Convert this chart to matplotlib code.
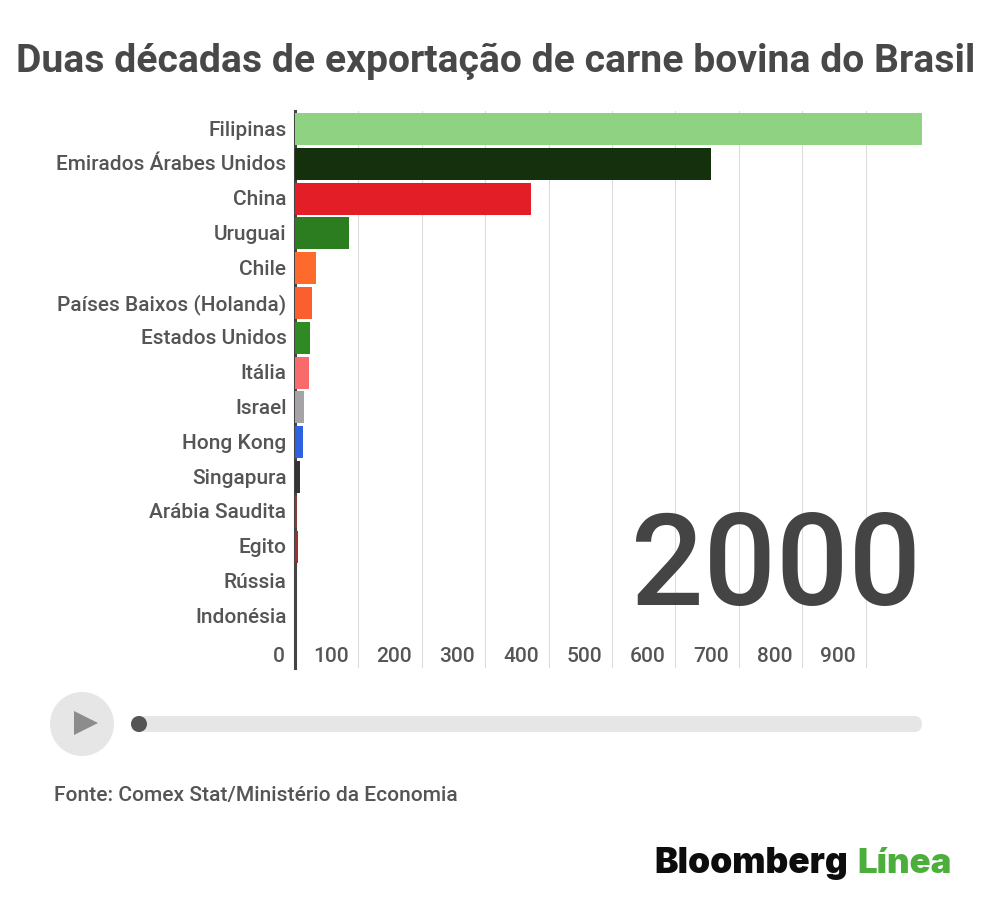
"""Brazilian beef exports, year 2000 frame of the bar race."""
import matplotlib

matplotlib.use("Agg")
import matplotlib.pyplot as plt
from matplotlib.patches import Circle, FancyBboxPatch, Polygon
from matplotlib.transforms import ScaledTranslation

plt.rcParams["font.family"] = ["Roboto", "DejaVu Sans"]

COUNTRIES = [
    "Filipinas", "Emirados Árabes Unidos", "China", "Uruguai", "Chile",
    "Países Baixos (Holanda)", "Estados Unidos", "Itália", "Israel",
    "Hong Kong", "Singapura", "Arábia Saudita", "Egito", "Rússia", "Indonésia",
]
VALUES = [989, 656, 372, 85, 33, 27, 24, 22, 14, 13, 8, 3.5, 4.5, 0.5, 0.3]
COLORS = [
    "#8fd282", "#14300c", "#e31e26", "#2b7d1f", "#fe6a2c",
    "#fb5f30", "#2f8a24", "#f96a6a", "#a5a3a5", "#2f62e0",
    "#333333", "#8b3a3a", "#a03030", "#444444", "#444444",
]
XTICKS = [0, 100, 200, 300, 400, 500, 600, 700, 800, 900]

TEXT = "#555555"
W, H = 1000, 909


def main():
    fig = plt.figure(figsize=(W / 100, H / 100), dpi=100)

    # page layer in pixel coords, y going down, kept above the chart so the year covers the grid
    page = fig.add_axes([0, 0, 1, 1], zorder=3)
    page.set_xlim(0, W)
    page.set_ylim(H, 0)
    page.axis("off")

    ax = fig.add_axes([295 / W, 1 - 668 / H, 627 / W, 557 / H], zorder=1)
    ax.patch.set_alpha(0)
    ax.barh(range(len(VALUES)), VALUES, height=0.92, color=COLORS, zorder=2)
    ax.set_xlim(0, 989)
    ax.set_ylim(15.49, -0.52)

    ax.set_yticks(range(len(COUNTRIES)), COUNTRIES)
    ax.set_xticks(XTICKS, [str(v) for v in XTICKS], ha="right")
    ax.tick_params(axis="y", length=0, pad=6.2, labelsize=15.05, labelcolor=TEXT)
    ax.tick_params(axis="x", length=0, pad=-15, labelsize=15, labelcolor=TEXT)
    xshift = ScaledTranslation(-7.2 / 72, 0, fig.dpi_scale_trans)
    for lab in ax.get_xticklabels():
        lab.set_transform(lab.get_transform() + xshift)
    yshift = ScaledTranslation(0, 0.7 / 72, fig.dpi_scale_trans)
    for lab in ax.get_yticklabels():
        lab.set_transform(lab.get_transform() + yshift)
    for lab in ax.get_xticklabels() + ax.get_yticklabels():
        lab.set_fontweight("medium")

    ax.grid(axis="x", color="#dcdcdc", linewidth=0.8, zorder=0)
    ax.set_axisbelow(True)
    for side in ("top", "right", "bottom"):
        ax.spines[side].set_visible(False)
    ax.spines["left"].set_color("#444444")
    ax.spines["left"].set_linewidth(2.2)
    ax.spines["left"].set_zorder(1.5)

    page.text(496, 61, "Duas décadas de exportação de carne bovina do Brasil",
              ha="center", va="center", fontsize=28.2, fontweight="bold", color="#484848")
    page.text(776, 570, "2000", ha="center", va="center", fontsize=92, fontweight="medium",
              color="#444444")

    # player controls
    page.add_patch(Circle((82, 724), 32, color="#e6e6e6", lw=0))
    page.add_patch(Polygon([(74, 711), (74, 735), (98, 723)], color="#8c8c8c", lw=0))
    page.add_patch(FancyBboxPatch((131, 716), 791, 16, boxstyle="round,pad=0,rounding_size=8",
                                  color="#e6e6e6", lw=0))
    page.add_patch(Circle((139, 724), 8, color="#555555", lw=0))

    page.text(54, 795, "Fonte: Comex Stat/Ministério da Economia", ha="left", va="center",
              fontsize=15.1, fontweight="medium", color=TEXT)

    # logo
    logo = page.text(654, 864, "Bloomberg", ha="left", va="center", fontsize=25.4,
                     family="Inter", fontweight="black", color="#0d0d0d")
    page.annotate("Línea", xy=(1, 0.5), xycoords=logo, xytext=(7, 0), textcoords="offset points",
                  va="center", ha="left", fontsize=25, family="Inter", fontweight="black",
                  color="#4caf3c")

    fig.savefig("out.png", dpi=100, facecolor="white")
    plt.close(fig)


if __name__ == "__main__":
    main()
